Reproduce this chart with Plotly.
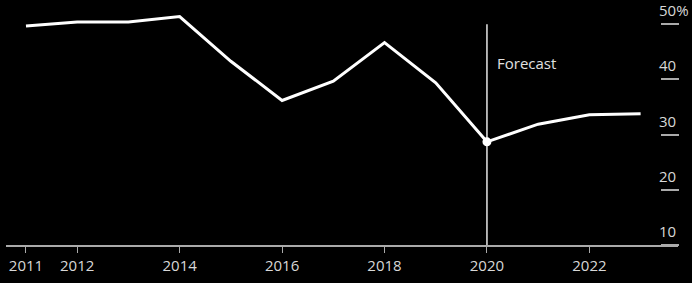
import plotly.graph_objects as go

years = [2011, 2012, 2013, 2014, 2015, 2016, 2017, 2018, 2019, 2020, 2021, 2022, 2023]
values = [49.7, 50.4, 50.4, 51.4, 43.3, 36.2, 39.7, 46.7, 39.4, 28.7, 31.9, 33.6, 33.8]
x_ticks = [2011, 2012, 2014, 2016, 2018, 2020, 2022]
y_ticks = [10, 20, 30, 40, 50]
y_tick_labels = ["10", "20", "30", "40", "50%"]
forecast_year = 2020
forecast_value = 28.7

FONT = "Open Sans"

fig = go.Figure()
fig.add_trace(go.Scatter(x=years, y=values, mode="lines",
                         line=dict(color="white", width=3), hoverinfo="skip"))
fig.add_trace(go.Scatter(x=[forecast_year], y=[forecast_value], mode="markers",
                         marker=dict(color="white", size=9), hoverinfo="skip"))

fig.add_shape(type="line", xref="x", yref="y", x0=forecast_year, x1=forecast_year,
              y0=10, y1=50, line=dict(color="#e6e6e6", width=1.5), layer="below")
fig.add_annotation(x=forecast_year, y=42.9, xref="x", yref="y", text="Forecast",
                   showarrow=False, xanchor="left", xshift=8,
                   font=dict(family=FONT, size=15, color="#e0e0e0"))

fig.update_layout(
    width=692, height=283,
    margin=dict(l=6, r=14, t=13, b=38, autoexpand=False),
    paper_bgcolor="black", plot_bgcolor="black",
    showlegend=False,
    xaxis=dict(range=[2010.61, 2023.73], tickvals=x_ticks, ticktext=[str(v) for v in x_ticks],
               showgrid=False, zeroline=False, showline=True, linecolor="#aaaaaa", linewidth=1.5,
               ticks="outside", ticklen=6, tickcolor="#aaaaaa", tickwidth=1,
               automargin=False,
               tickfont=dict(family=FONT, size=15, color="#d8d8d8")),
    yaxis=dict(range=[10, 52.05], tickvals=y_ticks, ticktext=y_tick_labels,
               side="right", anchor="free", position=(660 - 6) / 672,
               showgrid=False, zeroline=False, showline=False, automargin=False,
               ticks="outside", ticklen=18, tickcolor="#aaaaaa", tickwidth=1.5,
               ticklabelposition="outside top", ticklabelstandoff=-5, ticklabelshift=-2,
               ticklabeloverflow="allow",
               tickfont=dict(family=FONT, size=15, color="#d8d8d8")),
)

fig.write_html("out.html")
